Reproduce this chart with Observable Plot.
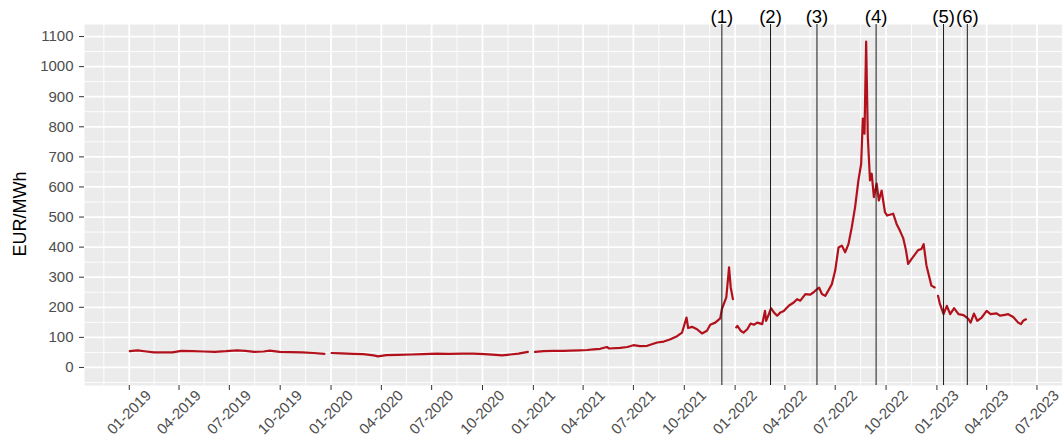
<!DOCTYPE html>
<html>
<head>
<meta charset="utf-8">
<script src="https://cdn.jsdelivr.net/npm/d3@7"></script>
<script src="https://cdn.jsdelivr.net/npm/@observablehq/plot@0.6"></script>
<style>
  html, body { margin: 0; padding: 0; background: #ffffff; }
  #chart svg { display: block; }
</style>
</head>
<body>
<div id="chart"></div>
<script>
// ---- data: year-ahead contract prices (EUR/MWh), one array per contract ----
const cal2020 = [
  ["2019-01-02",54],["2019-01-16",57],["2019-02-01",53],["2019-02-15",50],["2019-03-01",50],
  ["2019-03-20",50],["2019-04-05",55],["2019-04-25",54],["2019-05-15",53],["2019-06-05",52],
  ["2019-06-25",54],["2019-07-15",57],["2019-07-30",55],["2019-08-15",52],["2019-09-01",53],
  ["2019-09-12",56],["2019-09-30",52],["2019-10-20",51],["2019-11-10",50],["2019-11-30",48],
  ["2019-12-20",45]
];
const cal2021 = [
  ["2020-01-02",48],["2020-01-20",47],["2020-02-10",45],["2020-02-28",44],["2020-03-18",40],
  ["2020-03-26",37],["2020-04-10",41],["2020-05-01",42],["2020-05-25",43],["2020-06-15",44],
  ["2020-07-10",46],["2020-08-01",45],["2020-08-25",46],["2020-09-15",46],["2020-10-05",44],
  ["2020-10-25",42],["2020-11-05",40],["2020-11-20",43],["2020-12-05",46],["2020-12-22",52]
];
const cal2022 = [
  ["2021-01-04",52],["2021-01-20",54],["2021-02-07",55],["2021-02-25",55],["2021-03-09",56],
  ["2021-03-25",57],["2021-04-08",58],["2021-04-20",60],["2021-05-02",62],["2021-05-14",68],
  ["2021-05-18",63],["2021-06-07",65],["2021-06-20",68],["2021-07-01",74],["2021-07-13",71],
  ["2021-07-26",72],["2021-08-13",83],["2021-08-25",86],["2021-09-06",94],["2021-09-18",104],
  ["2021-09-27",116],["2021-10-05",166],["2021-10-08",131],["2021-10-15",135],["2021-10-24",127],
  ["2021-11-02",113],["2021-11-11",122],["2021-11-17",142],["2021-11-26",149],["2021-12-05",163],
  ["2021-12-08",194],["2021-12-16",233],["2021-12-21",333],["2021-12-24",266],["2021-12-28",227]
];
const cal2023 = [
  ["2022-01-03",133],["2022-01-05",138],["2022-01-11",122],["2022-01-16",116],["2022-01-23",127],
  ["2022-01-29",146],["2022-02-04",142],["2022-02-10",149],["2022-02-19",144],["2022-02-24",188],
  ["2022-02-26",155],["2022-03-03",177],["2022-03-07",197],["2022-03-12",183],["2022-03-18",172],
  ["2022-03-24",183],["2022-03-30",188],["2022-04-08",205],["2022-04-17",216],["2022-04-23",227],
  ["2022-04-29",222],["2022-05-08",244],["2022-05-17",242],["2022-05-23",250],["2022-05-26",255],
  ["2022-06-02",265],["2022-06-07",244],["2022-06-13",238],["2022-06-19",257],["2022-06-25",277],
  ["2022-07-01",322],["2022-07-07",399],["2022-07-13",405],["2022-07-19",383],["2022-07-25",410],
  ["2022-07-31",466],["2022-08-06",533],["2022-08-12",622],["2022-08-17",677],["2022-08-20",827],
  ["2022-08-23",777],["2022-08-26",1083],["2022-08-29",766],["2022-09-02",622],["2022-09-05",644],
  ["2022-09-09",566],["2022-09-14",611],["2022-09-18",555],["2022-09-23",588],["2022-09-29",516],
  ["2022-10-03",505],["2022-10-14",511],["2022-10-20",477],["2022-10-26",455],["2022-11-01",430],
  ["2022-11-06",390],["2022-11-10",344],["2022-11-16",360],["2022-11-22",375],["2022-11-28",390],
  ["2022-12-04",394],["2022-12-08",410],["2022-12-13",340],["2022-12-19",295],["2022-12-22",272],
  ["2022-12-28",266]
];
const cal2024 = [
  ["2023-01-03",238],["2023-01-06",214],["2023-01-13",177],["2023-01-19",205],["2023-01-25",177],
  ["2023-01-31",194],["2023-02-01",197],["2023-02-09",177],["2023-02-18",174],["2023-02-24",166],
  ["2023-02-27",161],["2023-03-03",149],["2023-03-09",179],["2023-03-15",155],["2023-03-23",166],
  ["2023-04-01",188],["2023-04-08",177],["2023-04-19",180],["2023-04-25",172],["2023-05-04",175],
  ["2023-05-10",177],["2023-05-19",168],["2023-05-28",149],["2023-06-02",144],["2023-06-06",155],
  ["2023-06-11",160]
];
const eventDates  = ["2021-12-08","2022-03-06","2022-05-29","2022-09-13","2023-01-13","2023-02-25"];
const eventLabels = ["(1)","(2)","(3)","(4)","(5)","(6)"];
const xTickDates  = ["2019-01-01","2019-04-01","2019-07-01","2019-10-01","2020-01-01","2020-04-01",
  "2020-07-01","2020-10-01","2021-01-01","2021-04-01","2021-07-01","2021-10-01","2022-01-01",
  "2022-04-01","2022-07-01","2022-10-01","2023-01-01","2023-04-01","2023-07-01"];
const yTicks = [0,100,200,300,400,500,600,700,800,900,1000,1100];
const yLabel = "EUR/MWh";

// ---- build tables ----
const segments = {cal2020, cal2021, cal2022, cal2023, cal2024};
const series = Object.entries(segments).flatMap(([k, arr]) =>
  arr.map(([d, v]) => ({contract: k, date: new Date(d), value: v})));
const events = eventDates.map((d, i) => ({date: new Date(d), label: eventLabels[i]}));
const xTicks = xTickDates.map(d => new Date(d));
const xDomain = [new Date("2018-10-12"), new Date("2023-08-18")];
const yDomain = [-60, 1140];
const fmtX = d3.utcFormat("%m-%Y");

// minor grid: midpoints between majors (ggplot style)
const xExt = [d3.utcMonth.offset(xTicks[0], -3), ...xTicks, d3.utcMonth.offset(xTicks[xTicks.length-1], 3)];
const xMinor = d3.pairs(xExt).map(([a, b]) => new Date((+a + +b) / 2))
  .filter(d => d >= xDomain[0] && d <= xDomain[1]);
const yExt = [yTicks[0] - 100, ...yTicks, yTicks[yTicks.length-1] + 100];
const yMinor = d3.pairs(yExt).map(([a, b]) => (a + b) / 2)
  .filter(v => v >= yDomain[0] && v <= yDomain[1]);

const chart = Plot.plot({
  width: 1063,
  height: 437,
  marginTop: 24,
  marginBottom: 52,
  marginLeft: 84,
  marginRight: 0,
  style: {fontFamily: "'Liberation Sans', Arial, Helvetica, sans-serif", background: "#ffffff"},
  x: {type: "utc", domain: xDomain, axis: null},
  y: {domain: yDomain, axis: null},
  marks: [
    Plot.frame({fill: "#EBEBEB", stroke: null}),
    Plot.ruleX(xMinor, {stroke: "#ffffff", strokeWidth: 0.9}),
    Plot.ruleY(yMinor, {stroke: "#ffffff", strokeWidth: 0.9}),
    Plot.ruleX(xTicks, {stroke: "#ffffff", strokeWidth: 1.8}),
    Plot.ruleY(yTicks, {stroke: "#ffffff", strokeWidth: 1.8}),
    Plot.line(series, {x: "date", y: "value", z: "contract", stroke: "#B2111C", strokeWidth: 2.2, strokeLinejoin: "round"}),
    Plot.ruleX(events, {x: "date", stroke: "#1a1a1a", strokeWidth: 1}),
    Plot.text(events, {x: "date", text: "label", frameAnchor: "top", lineAnchor: "middle", dy: -7, fontSize: 18.5, fill: "#000000"}),
    // x ticks (marks only) + rotated, centred labels as in ggplot
    Plot.axisX(xTicks, {tickFormat: () => "", tickSize: 5, stroke: "#333333", label: null}),
    Plot.text(xTicks, {x: d => d, text: d => fmtX(d), frameAnchor: "bottom", rotate: -45,
      textAnchor: "middle", lineAnchor: "middle", dy: 27, fontSize: 15, fill: "#4D4D4D"}),
    Plot.axisY(yTicks, {
      tickFormat: d => String(d), tickSize: 5, tickPadding: 6, fontSize: 15, fill: "#4D4D4D", stroke: "#333333", label: null
    }),
    Plot.text([yLabel], {text: d => d, frameAnchor: "left", rotate: -90, textAnchor: "middle", dx: -64, dy: 9, fontSize: 18, fill: "#000000"})
  ]
});
document.getElementById("chart").appendChild(chart);
</script>
</body>
</html>
